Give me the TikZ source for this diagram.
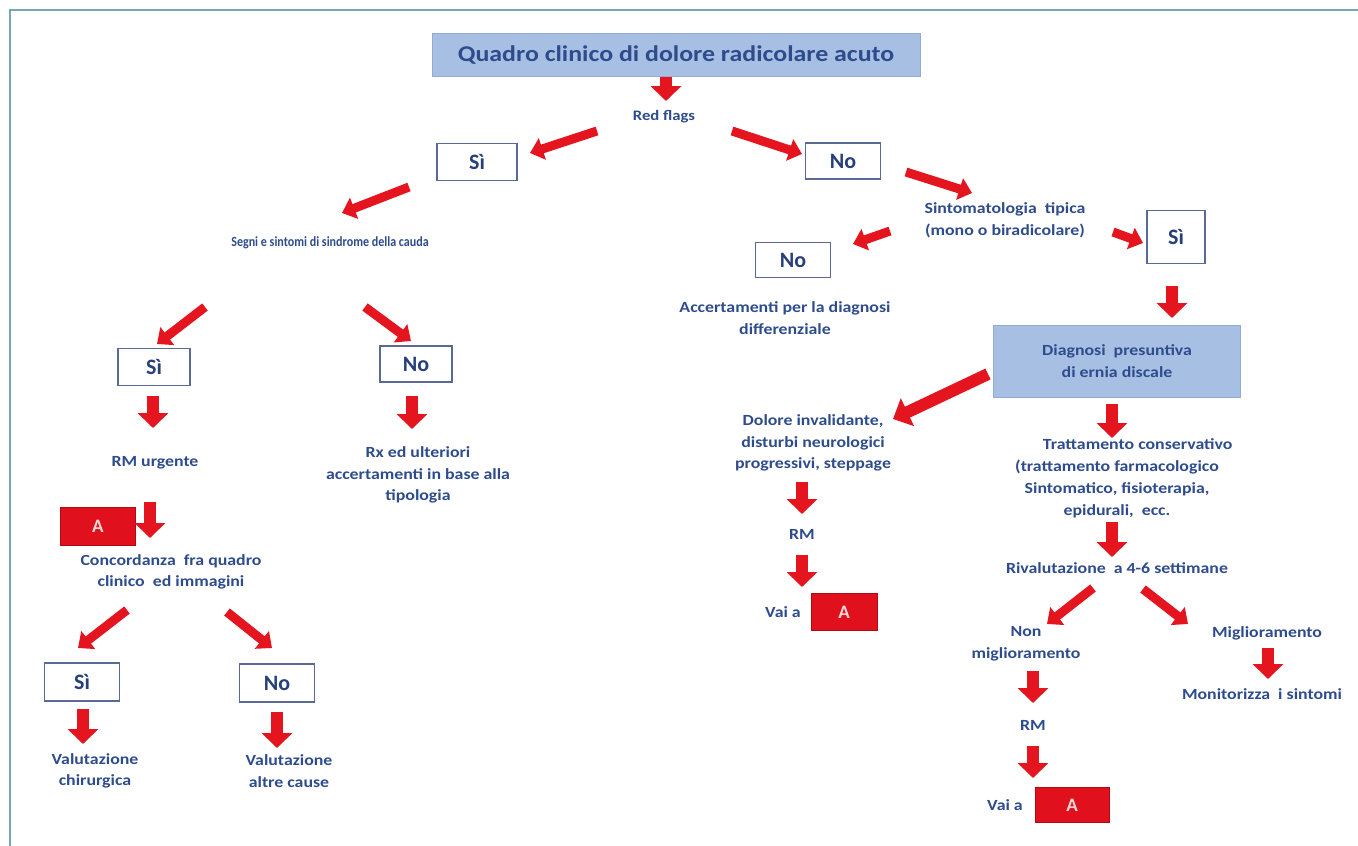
\documentclass[tikz,border=0pt]{standalone}
\usepackage{fontspec}
\setmainfont{Carlito}
\usepackage{graphicx}
\usetikzlibrary{arrows.meta}

\definecolor{textblue}{RGB}{46,76,140}
\definecolor{boxtext}{RGB}{39,64,122}
\definecolor{boxline}{RGB}{90,106,148}
\definecolor{arrowred}{RGB}{228,21,31}
\definecolor{afill}{RGB}{224,16,28}
\definecolor{aline}{RGB}{176,10,20}
\definecolor{atext}{RGB}{246,216,216}
\definecolor{titlefill}{RGB}{168,191,228}
\definecolor{titleline}{RGB}{147,170,210}
\definecolor{framecol}{RGB}{122,165,181}

% wide lettering
\newcommand\wx[1]{\scalebox{1.15}[1]{#1}}

\begin{document}
\begin{tikzpicture}[x=1pt,y=-1pt,
  every node/.style={inner sep=0pt, outer sep=0pt},
  txt/.style={font=\bfseries\fontsize{15.5}{21.5}\selectfont, text=textblue, align=center},
  choice/.style={draw=boxline, line width=1.4pt, fill=white,
    font=\bfseries\fontsize{22}{26}\selectfont, text=boxtext,
    minimum height=37pt, minimum width=74pt},
  goto/.style={draw=aline, line width=0.8pt, fill=afill, text=atext,
    font=\bfseries\fontsize{19}{22}\selectfont, minimum width=70pt, minimum height=37pt},
  bluebox/.style={draw=titleline, line width=1pt, fill=titlefill},
  varrow/.style={draw=arrowred, line width=12pt, -{Triangle[width=30pt,length=15pt]}},
  darrow/.style={draw=arrowred, line width=9pt, -{Triangle[width=22pt,length=13pt]}},
  bigarrow/.style={draw=arrowred, line width=12pt, -{Triangle[width=30pt,length=16pt]}},
]
\useasboundingbox (0,0) rectangle (1358,846);
\fill[white] (0,0) rectangle (1358,846);

% outer frame (left and top edges)
\draw[framecol, line width=2pt] (1358,10) -- (10,10) -- (10,846);

% ---------- nodes ----------
\node[bluebox, minimum width=488pt, minimum height=43pt,
      font=\bfseries\fontsize{22.5}{26}\selectfont, text=textblue] (title) at (676,55)
      {\wx{Quadro clinico di dolore radicolare acuto}};
\node[txt, font=\bfseries\fontsize{14.5}{17}\selectfont] (rf) at (664,117) {\wx{Red flags}};
\node[choice, minimum width=80pt] (si1) at (477,162) {Sì};
\node[choice, minimum width=75pt, minimum height=36pt] (no1) at (843,161) {No};

% left branch
\node[txt, font=\bfseries\fontsize{14}{17}\selectfont] (cauda) at (330,243)
      {\scalebox{0.86}[1]{Segni e sintomi di sindrome della cauda}};
\node[choice, minimum width=72pt] (si2) at (154,367) {Sì};
\node[choice, minimum width=72pt, minimum height=36pt] (no2) at (416,364) {No};
\node[txt] (rmu) at (155,463) {\wx{RM urgente}};
\node[txt] (rx) at (418,475) {\wx{Rx ed ulteriori}\\\wx{accertamenti in base alla}\\\wx{tipologia}};
\node[goto, minimum width=75pt, minimum height=38pt] (a1) at (98,526) {A};
\node[txt] (conc) at (171,572) {\wx{Concordanza\ \ fra quadro}\\\wx{clinico\ \ ed immagini}};
\node[choice, minimum width=75pt, minimum height=38pt] (si3) at (82,682) {Sì};
\node[choice, minimum width=75pt, minimum height=38pt] (no3) at (277,683) {No};
\node[txt] (chir) at (95,771) {\wx{Valutazione}\\\wx{chirurgica}};
\node[txt] (altre) at (289,771) {\wx{Valutazione}\\\wx{altre cause}};

% right branch
\node[txt] (sint) at (1005,220) {\wx{Sintomatologia\ \ tipica}\\\wx{(mono o biradicolare)}};
\node[choice, minimum width=75pt, minimum height=35pt] (no4) at (793,260) {No};
\node[txt] (diff) at (785,318) {\wx{Accertamenti per la diagnosi}\\\wx{differenziale}};
\node[choice, minimum width=58pt, minimum height=53pt] (si4) at (1176,237) {Sì};
\node[bluebox, txt, minimum width=247pt, minimum height=72pt] (diag) at (1117,361)
      {\wx{Diagnosi\ \ presuntiva}\\\wx{di ernia discale}};
\node[txt] (dolore) at (813,443) {\wx{Dolore invalidante,}\\\wx{disturbi neurologici}\\\wx{progressivi, steppage}};
\node[txt] (rm1) at (802,534) {\wx{RM}};
\node[txt] (vai1) at (783,612) {\wx{Vai a}};
\node[goto, minimum width=66pt, minimum height=37pt] (a2) at (844,612) {A};
\node[txt, font=\bfseries\fontsize{15.5}{22}\selectfont] (tratt) at (1117,478)
      {\wx{\hspace*{36pt}Trattamento conservativo}\\\wx{(trattamento farmacologico}\\\wx{Sintomatico, fisioterapia,}\\\wx{epidurali,\ \ ecc.}};
\node[txt] (riv) at (1117,568) {\wx{Rivalutazione\ \ a 4-6 settimane}};
\node[txt] (nonmig) at (1026,644) {\wx{Non}\\\wx{miglioramento}};
\node[txt] (mig) at (1267,633) {\wx{Miglioramento}};
\node[txt] (monit) at (1262,694) {\wx{Monitorizza\ \ i sintomi}};
\node[txt] (rm2) at (1033,725) {\wx{RM}};
\node[txt] (vai2) at (1005,805) {\wx{Vai a}};
\node[goto, minimum width=74pt, minimum height=35pt] (a3) at (1072,805) {A};

% ---------- block arrows ----------
\foreach \n/\xa/\ya/\xb/\yb in {
    vTitle/666/77/666/101, vSi4/1172/286/1172/318, vDol/802/482/802/514,
    vRm1/802/555/802/587, vDiag/1112/404/1112/438, vTratt/1112/522/1112/557,
    vMig/1268/648/1268/679, vNon/1033/671/1033/703, vRm2/1033/746/1033/778,
    vSi2/153/396/153/428, vNo2/412/396/412/429, vA1/150/502/150/538,
    vSi3/83/709/83/744, vNo3/277/712/277/748}
  {\draw[varrow] (\xa,\ya) coordinate (\n s) -- (\xb,\yb) coordinate (\n e);}

\foreach \n/\xa/\ya/\xb/\yb in {
    dRfSi/597/131/530/153, dRfNo/732/131/802/154, dNoSint/906/172/972/193,
    dSintNo/890/231/853/244, dSintSi/1113/232/1143/243,
    dRivNon/1093/588/1047/624, dRivMig/1143/589/1188/624,
    dSiCauda/409/187/342/213, dCaudaSi/205/307/157/344, dCaudaNo/365/307/411/341,
    dConcSi/127/610/78/648, dConcNo/227/612/272/648}
  {\draw[darrow] (\xa,\ya) coordinate (\n s) -- (\xb,\yb) coordinate (\n e);}

\draw[bigarrow] (988,374) coordinate (bDiags) -- (893,419) coordinate (bDiage);
\end{tikzpicture}
\end{document}
